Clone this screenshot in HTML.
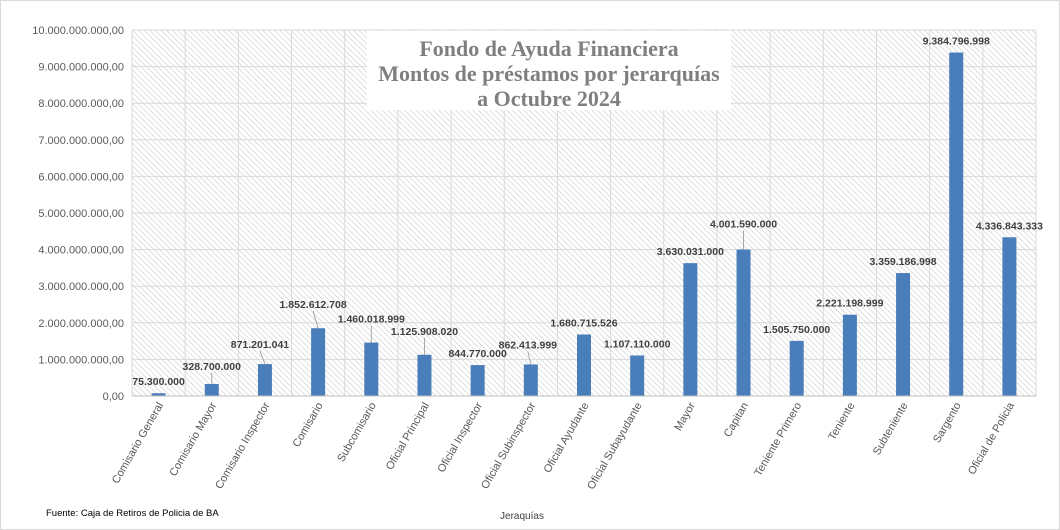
<!DOCTYPE html>
<html><head><meta charset="utf-8"><style>
body{margin:0;background:#fff;}
svg{display:block;font-family:"Liberation Sans",sans-serif;}
</style></head><body>
<svg width="1060" height="530" viewBox="0 0 1060 530">
<defs>
<pattern id="hatch" width="4" height="4" patternUnits="userSpaceOnUse" patternTransform="rotate(-45)">
<rect width="4" height="4" fill="#fff"/><line x1="0" y1="0" x2="0" y2="4" stroke="#cfcfcf" stroke-width="1.3"/>
</pattern>
</defs>
<rect x="0.5" y="0.5" width="1059" height="529" fill="#fff" stroke="#d9d9d9"/>
<g id="plot"></g>
<g>
<rect x="367" y="31" width="364" height="79" fill="#fff"/>
<text x="549" y="56" text-anchor="middle" font-family="Liberation Serif,serif" font-weight="bold" font-size="22" fill="#7f7f7f">Fondo de Ayuda Financiera</text>
<text x="549" y="81" text-anchor="middle" font-family="Liberation Serif,serif" font-weight="bold" font-size="22" fill="#7f7f7f">Montos de préstamos por jerarquías</text>
<text x="549" y="106" text-anchor="middle" font-family="Liberation Serif,serif" font-weight="bold" font-size="22" fill="#7f7f7f">a  Octubre 2024</text>
</g>
<text x="46" y="516" font-size="9.5" fill="#000">Fuente: Caja de Retiros de Policia de BA</text>
<text x="522" y="519" text-anchor="middle" font-size="10" fill="#404040">Jeraquías</text>
</svg>
<script>
const categories=["Comisario General","Comisario Mayor","Comisario Inspector","Comisario","Subcomisario","Oficial Principal","Oficial Inspector","Oficial Subinspector","Oficial Ayudante","Oficial Subayudante","Mayor","Capitan","Teniente Primero","Teniente","Subteniente","Sargento","Oficial de Policia"];
const values=[75300000,328700000,871201041,1852612708,1460018999,1125908020,844770000,862413999,1680715526,1107110000,3630031000,4001590000,1505750000,2221198999,3359186998,9384796998,4336843333];
const valueLabels=["75.300.000","328.700.000","871.201.041","1.852.612.708","1.460.018.999","1.125.908.020","844.770.000","862.413.999","1.680.715.526","1.107.110.000","3.630.031.000","4.001.590.000","1.505.750.000","2.221.198.999","3.359.186.998","9.384.796.998","4.336.843.333"];
const yTicks=[0,1e9,2e9,3e9,4e9,5e9,6e9,7e9,8e9,9e9,1e10];
const yTickLabels=["0,00","1.000.000.000,00","2.000.000.000,00","3.000.000.000,00","4.000.000.000,00","5.000.000.000,00","6.000.000.000,00","7.000.000.000,00","8.000.000.000,00","9.000.000.000,00","10.000.000.000,00"];
const labelShift=[[0,0],[0,-6],[-5,-8],[-5,-12],[0,-12],[0,-12],[0,0],[-3,-8],[0,0],[0,0],[0,0],[0,-14],[0,0],[0,0],[0,0],[0,0],[0,0]];
const NS="http://www.w3.org/2000/svg";
const X0=132,X1=1036,Y0=396,Y1=30,YMAX=1e10;
const bw=(X1-X0)/categories.length;
const y=v=>Y0-v/YMAX*(Y0-Y1);
const xc=i=>X0+bw*(i+0.5);
const g=document.getElementById('plot');
function mk(t,a,p){const e=document.createElementNS(NS,t);for(const k in a)e.setAttribute(k,a[k]);(p||g).appendChild(e);return e;}
const bg=mk('rect',{x:X0,y:Y1,width:X1-X0,height:Y0-Y1,fill:'url(#hatch)'});


yTicks.forEach((t,i)=>{
 const l=mk('line',{x1:X0,x2:X1,y1:y(t),y2:y(t),stroke:'#d9d9d9','stroke-width':1});
 
 
 const tx=mk('text',{x:X0-8,y:y(t)+4,'text-anchor':'end','font-size':11,fill:'#595959'});
 tx.textContent=yTickLabels[i];
 
 
});
for(let i=0;i<=categories.length;i++){
 const l=mk('line',{x1:X0+bw*i,x2:X0+bw*i,y1:Y1,y2:Y0,stroke:'#d9d9d9','stroke-width':1});
 
 
}
categories.forEach((c,i)=>{
 const top=y(values[i]);
 const b=mk('rect',{x:xc(i)-7,y:top,width:14,height:Y0-top,fill:'#4a7ebb'});
 
 
 const [dx,dy]=labelShift[i];
 const ly=top-8+dy;
 if(dy<-5){
  const ll=mk('line',{x1:xc(i),x2:xc(i)+dx,y1:top,y2:ly+3,stroke:'#a6a6a6','stroke-width':1});
  
  
 }
 const t=mk('text',{x:xc(i)+dx,y:ly,'text-anchor':'middle','font-size':10.5,'font-weight':'bold',fill:'#404040'});
 t.textContent=valueLabels[i];
 
 
 const ct=mk('text',{x:0,y:0,'text-anchor':'end','font-size':11,fill:'#595959',transform:`translate(${xc(i)+5},${Y0+9}) rotate(-60)`});
 ct.textContent=c;
 
 
});
const ax=mk('line',{x1:X0,x2:X1,y1:Y0,y2:Y0,stroke:'#bfbfbf','stroke-width':1});


</script>
</body></html>
